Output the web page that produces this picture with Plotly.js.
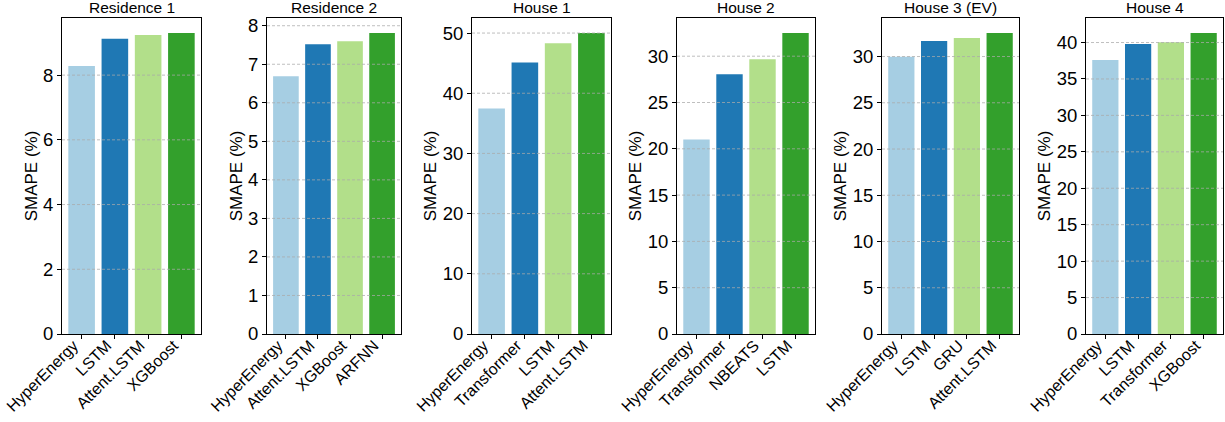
<!DOCTYPE html>
<html>
<head>
<meta charset="utf-8">
<script src="https://cdn.plot.ly/plotly-3.0.1.min.js"></script>
<style>html,body{margin:0;padding:0;background:#fff;}#chart{width:1225px;height:422px;}</style>
</head>
<body>
<div id="chart"></div>
<script>
// Data
const titles = ["Residence 1", "Residence 2", "House 1", "House 2", "House 3 (EV)", "House 4"];
const cats1 = ["HyperEnergy", "LSTM", "Attent.LSTM", "XGBoost"];
const vals1 = [8.28, 9.12, 9.24, 9.30];
const cats2 = ["HyperEnergy", "Attent.LSTM", "XGBoost", "ARFNN"];
const vals2 = [6.69, 7.52, 7.60, 7.81];
const cats3 = ["HyperEnergy", "Transformer", "LSTM", "Attent.LSTM"];
const vals3 = [37.46, 45.1, 48.3, 50.0];
const cats4 = ["HyperEnergy", "Transformer", "NBEATS", "LSTM"];
const vals4 = [21.0, 28.05, 29.68, 32.5];
const cats5 = ["HyperEnergy", "LSTM", "GRU", "Attent.LSTM"];
const vals5 = [29.97, 31.67, 32.0, 32.54];
const cats6 = ["HyperEnergy", "LSTM", "Transformer", "XGBoost"];
const vals6 = [37.6, 39.8, 40.05, 41.3];
const yTickSteps = [2, 1, 10, 5, 5, 5];

const cats = [cats1, cats2, cats3, cats4, cats5, cats6];
const vals = [vals1, vals2, vals3, vals4, vals5, vals6];
const colors = ["#a6cee3", "#1f78b4", "#b2df8a", "#33a02c"];

const W = 1225, H = 422;
const xDomPx = [[62, 201], [267, 401], [472, 611], [677, 815], [882, 1019], [1086, 1223]];
const yTop = 18, yBot = 334;
const font = "Liberation Sans, Arial, sans-serif";

const data = [];
const layout = {
  width: W, height: H,
  margin: {l: 0, r: 0, t: 0, b: 0},
  paper_bgcolor: "#fff", plot_bgcolor: "#fff",
  showlegend: false,
  bargap: 0.2,
  font: {family: font, color: "#000", size: 17},
  annotations: [],
  shapes: []
};

for (let i = 0; i < 6; i++) {
  const n = i + 1;
  const xa = n === 1 ? "x" : "x" + n;
  const ya = n === 1 ? "y" : "y" + n;
  const xk = n === 1 ? "xaxis" : "xaxis" + n;
  const yk = n === 1 ? "yaxis" : "yaxis" + n;
  data.push({
    type: "bar",
    x: cats[i].map((c, j) => j),
    y: vals[i],
    marker: {color: colors, line: {width: 0}},
    xaxis: xa, yaxis: ya,
    hoverinfo: "skip"
  });
  const ymax = Math.max(...vals[i]) * 1.05;
  layout[xk] = {
    domain: [xDomPx[i][0] / W, xDomPx[i][1] / W],
    anchor: ya,
    range: [-0.59, 3.59],
    tickmode: "array",
    tickvals: cats[i].map((c, j) => j),
    ticktext: cats[i],
    tickangle: -45,
    ticks: "outside", ticklen: 4, tickcolor: "#000", tickwidth: 1,
    showline: true, linecolor: "#000", linewidth: 1, mirror: true,
    showgrid: false, zeroline: false,
    tickfont: {family: font, size: 16, color: "#000"},
    ticklabeloverflow: "allow",
    ticklabelstandoff: -9, ticklabelshift: -8,
    automargin: false, fixedrange: true
  };
  layout[yk] = {
    domain: [(H - yBot) / H, (H - yTop) / H],
    anchor: xa,
    range: [0, ymax],
    dtick: yTickSteps[i], tick0: 0,
    ticks: "outside", ticklen: 4, tickcolor: "#000", tickwidth: 1,
    showline: true, linecolor: "#000", linewidth: 1, mirror: true,
    showgrid: false,
    zeroline: false,
    tickfont: {family: font, size: 18.5, color: "#000"},
    ticklabeloverflow: "allow",
    title: {text: "SMAPE (%)", font: {family: font, size: 17, color: "#000"}, standoff: 1},
    automargin: false, fixedrange: true
  };
  // grid lines drawn above bars, as in the reference
  for (let k = yTickSteps[i]; k <= ymax; k += yTickSteps[i]) {
    layout.shapes.push({
      type: "line", layer: "above",
      xref: xa + " domain", yref: ya,
      x0: 0, x1: 1, y0: k, y1: k,
      line: {color: "rgba(170,170,170,0.75)", width: 1, dash: "3px,2px"}
    });
  }
  layout.annotations.push({
    text: titles[i],
    xref: "paper", yref: "paper",
    x: (xDomPx[i][0] + xDomPx[i][1]) / 2 / W,
    y: (H - yTop) / H,
    xanchor: "center", yanchor: "bottom", yshift: 0,
    showarrow: false,
    font: {family: font, size: 15.5, color: "#000"}
  });
}

Plotly.newPlot("chart", data, layout, {displayModeBar: false, staticPlot: true});
</script>
</body>
</html>
